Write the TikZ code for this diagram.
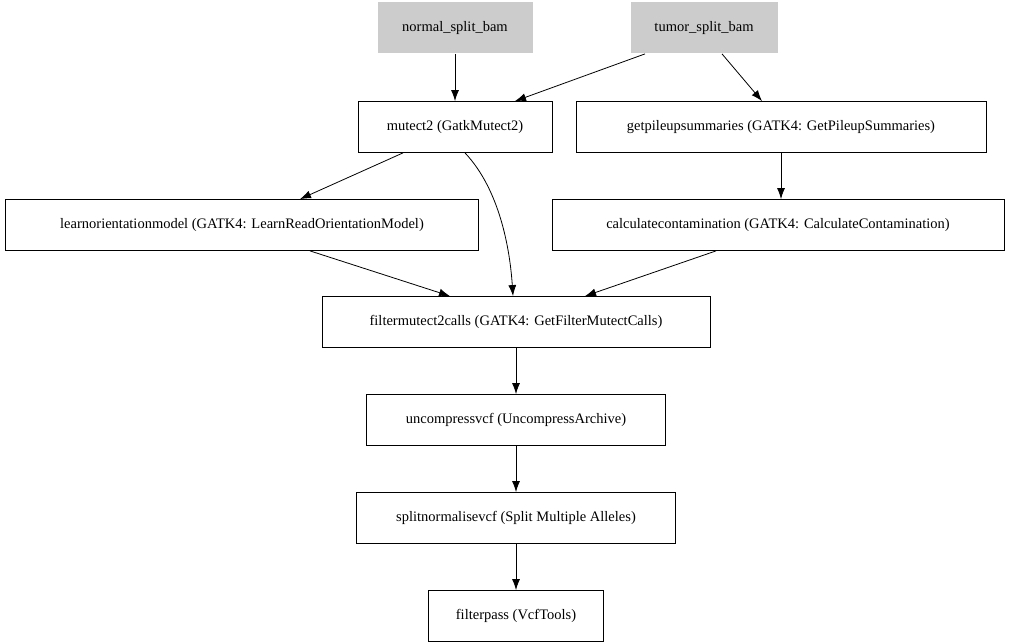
\documentclass[tikz,border=0pt]{standalone}
\usepackage{fontspec}
\setmainfont{Liberation Serif}
\usetikzlibrary{arrows.meta,positioning}

\tikzset{
  task/.style={draw, line width=0.8pt, minimum height=51pt, inner sep=0pt, font=\fontsize{14.5}{16}\selectfont},
  input/.style={task, draw=none, fill=black!20},
  flow/.style={line width=0.8pt, -{Latex[length=11pt,width=8pt]}}
}

\begin{document}
\begin{tikzpicture}[x=1pt,y=-1pt]
       \useasboundingbox (0,0) rectangle (1011,644);

       % inputs
       \node[input, minimum width=155pt] (normal) at (455,28) {normal\_split\_bam};
       \node[input, minimum width=147pt] (tumor) at (704,28) {tumor\_split\_bam};

       % tasks
       \node[task, minimum width=194pt] (mutect) at (455,127) {mutect2 (GatkMutect2)};
       \node[task, minimum width=410pt] (pileup) at (781,127) {getpileupsummaries (GATK4: GetPileupSummaries)};
       \node[task, minimum width=473pt] (orient) at (242,225) {learnorientationmodel (GATK4: LearnReadOrientationModel)};
       \node[task, minimum width=452pt] (contam) at (778,225) {calculatecontamination (GATK4: CalculateContamination)};
       \node[task, minimum width=388pt] (filtcalls) at (516,322) {filtermutect2calls (GATK4: GetFilterMutectCalls)};
       \node[task, minimum width=299pt] (uncomp) at (516,420) {uncompressvcf (UncompressArchive)};
       \node[task, minimum width=319pt] (splitnorm) at (516,518) {splitnormalisevcf (Split Multiple Alleles)};
       \node[task, minimum width=175pt] (filtpass) at (516,616) {filterpass (VcfTools)};

       % connectors
       \draw[flow] (normal) -- (mutect);
       \draw[flow] ([xshift=-59pt]tumor.south) -- ([xshift=60pt]mutect.north);
       \draw[flow] ([xshift=18pt]tumor.south) -- ([xshift=-19pt]pileup.north);
       \draw[flow] (pileup) -- (pileup |- contam.north);
       \draw[flow] ([xshift=-52pt]mutect.south) -- ([xshift=58pt]orient.north);
       \draw[flow] ([xshift=10pt]mutect.south) .. controls (500,190) and (510,250) .. ([xshift=-3pt]filtcalls.north);
       \draw[flow] ([xshift=68pt]orient.south) -- ([xshift=-66pt]filtcalls.north);
       \draw[flow] ([xshift=-62pt]contam.south) -- ([xshift=69pt]filtcalls.north);
       \draw[flow] (filtcalls) -- (uncomp);
       \draw[flow] (uncomp) -- (splitnorm);
       \draw[flow] (splitnorm) -- (filtpass);
\end{tikzpicture}
\end{document}
